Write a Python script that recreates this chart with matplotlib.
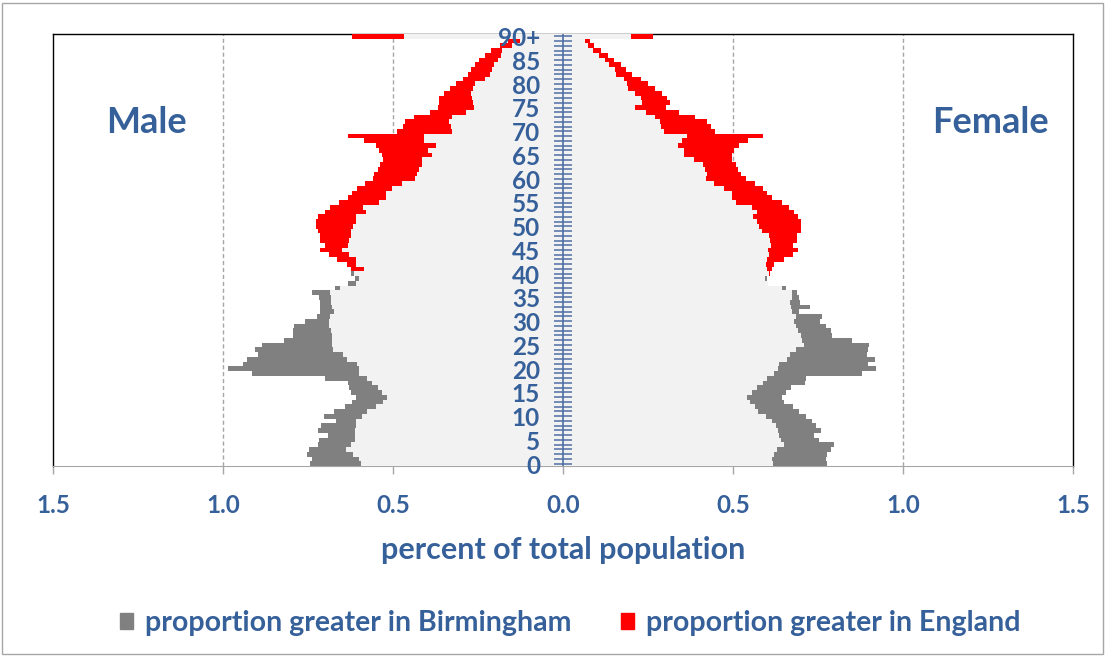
import numpy as np
import matplotlib
matplotlib.use('Agg')
import matplotlib.pyplot as plt
from matplotlib.patches import Patch, Rectangle

plt.rcParams['font.family'] = ['Lato', 'DejaVu Sans']
plt.rcParams['font.weight'] = 'bold'

# single years of age 0..90 (90 = 90+), percent of total population
ages = np.arange(91)
age_labels = [str(a) for a in range(0, 90, 5)] + ['90+']

male_birmingham = [
    0.745, 0.737, 0.752, 0.747, 0.720, 0.718, 0.690, 0.720, 0.713, 0.667,
    0.703, 0.674, 0.641, 0.620, 0.608, 0.624, 0.629, 0.631, 0.700, 0.914,
    0.985, 0.941, 0.928, 0.896, 0.906, 0.884, 0.820, 0.794, 0.794, 0.791,
    0.760, 0.725, 0.715, 0.715, 0.715, 0.718, 0.737, 0.671, 0.632, 0.612,
    0.624, 0.585, 0.608, 0.608, 0.628, 0.649, 0.632, 0.629, 0.624, 0.624,
    0.618, 0.608, 0.610, 0.580, 0.587, 0.541, 0.522, 0.522, 0.502, 0.474,
    0.436, 0.428, 0.424, 0.414, 0.414, 0.384, 0.397, 0.374, 0.409, 0.409,
    0.326, 0.330, 0.335, 0.326, 0.286, 0.262, 0.266, 0.269, 0.272, 0.264,
    0.260, 0.230, 0.215, 0.210, 0.203, 0.190, 0.181, 0.178, 0.149, 0.127,
    0.468]
male_england = [
    0.595, 0.600, 0.618, 0.637, 0.624, 0.613, 0.613, 0.612, 0.610, 0.610,
    0.592, 0.577, 0.551, 0.529, 0.517, 0.533, 0.543, 0.561, 0.576, 0.600,
    0.600, 0.607, 0.634, 0.647, 0.676, 0.680, 0.680, 0.680, 0.683, 0.688,
    0.688, 0.686, 0.673, 0.680, 0.683, 0.683, 0.686, 0.657, 0.610, 0.600,
    0.615, 0.624, 0.636, 0.664, 0.688, 0.714, 0.700, 0.715, 0.715, 0.720,
    0.726, 0.726, 0.720, 0.700, 0.685, 0.659, 0.631, 0.620, 0.605, 0.582,
    0.559, 0.556, 0.544, 0.538, 0.529, 0.531, 0.541, 0.551, 0.585, 0.632,
    0.487, 0.471, 0.465, 0.438, 0.392, 0.368, 0.365, 0.365, 0.350, 0.332,
    0.316, 0.293, 0.280, 0.270, 0.260, 0.247, 0.230, 0.213, 0.185, 0.161,
    0.620]
female_birmingham = [
    0.777, 0.773, 0.777, 0.787, 0.797, 0.753, 0.738, 0.758, 0.743, 0.733,
    0.714, 0.694, 0.676, 0.650, 0.643, 0.655, 0.670, 0.712, 0.714, 0.878,
    0.920, 0.898, 0.918, 0.893, 0.898, 0.900, 0.851, 0.790, 0.787, 0.773,
    0.755, 0.761, 0.694, 0.726, 0.697, 0.695, 0.689, 0.655, 0.604, 0.601,
    0.605, 0.601, 0.596, 0.599, 0.606, 0.604, 0.611, 0.608, 0.606, 0.584,
    0.576, 0.571, 0.559, 0.571, 0.557, 0.508, 0.498, 0.496, 0.474, 0.444,
    0.421, 0.423, 0.417, 0.413, 0.385, 0.356, 0.356, 0.339, 0.349, 0.366,
    0.297, 0.287, 0.285, 0.271, 0.245, 0.212, 0.231, 0.228, 0.212, 0.191,
    0.189, 0.179, 0.157, 0.152, 0.135, 0.123, 0.106, 0.089, 0.074, 0.064,
    0.201]
female_england = [
    0.618, 0.616, 0.621, 0.630, 0.650, 0.640, 0.635, 0.633, 0.627, 0.614,
    0.598, 0.574, 0.565, 0.550, 0.542, 0.557, 0.572, 0.588, 0.601, 0.621,
    0.633, 0.635, 0.660, 0.667, 0.684, 0.709, 0.704, 0.701, 0.692, 0.684,
    0.680, 0.684, 0.673, 0.670, 0.668, 0.673, 0.673, 0.645, 0.604, 0.594,
    0.610, 0.614, 0.621, 0.650, 0.675, 0.692, 0.675, 0.689, 0.689, 0.699,
    0.699, 0.699, 0.692, 0.679, 0.665, 0.643, 0.614, 0.601, 0.588, 0.565,
    0.537, 0.523, 0.515, 0.508, 0.498, 0.498, 0.503, 0.518, 0.544, 0.589,
    0.447, 0.434, 0.423, 0.388, 0.341, 0.304, 0.314, 0.307, 0.292, 0.271,
    0.251, 0.230, 0.204, 0.184, 0.170, 0.150, 0.132, 0.113, 0.091, 0.078,
    0.265]

BLUE = '#36609a'
LIGHT = '#f2f2f2'
GREY = '#808080'
RED = '#ff0000'

fig = plt.figure(figsize=(11.07, 6.57), dpi=100)
ax = fig.add_axes([53/1107, 1 - 466/657, 1020/1107, 432/657])


def side(birm, eng, sign):
    b = np.array(birm)
    e = np.array(eng)
    common = np.minimum(b, e)
    ax.barh(ages, sign*common, height=1.0, color=LIGHT, zorder=3)
    ax.barh(ages, sign*np.clip(b - e, 0, None), left=sign*common,
            height=1.0, color=GREY, zorder=3)
    ax.barh(ages, sign*np.clip(e - b, 0, None), left=sign*common,
            height=1.0, color=RED, zorder=3)


side(male_birmingham, male_england, -1)
side(female_birmingham, female_england, 1)

ax.set_xlim(-1.5, 1.5)
ax.set_ylim(-0.5, 90.5)

# dashed grid
for g in [-1.0, -0.5, 0.5, 1.0]:
    ax.axvline(g, color='#a6a6a6', lw=1, ls=(0, (3, 2)), zorder=1)

# centre age axis with a tick per year
ax.axvline(0, color='#4f6fa5', lw=1.2, zorder=4)
ax.hlines(ages, -0.027, 0.025, color='#4f6fa5', lw=1.1, zorder=4)
for a, lab in zip(range(0, 91, 5), age_labels):
    ax.text(-0.068, a - 0.5, lab, ha='right', va='center', color=BLUE,
            fontsize=17.5, fontweight='bold', zorder=5)

ax.set_yticks([])
ax.set_xticks([-1.5, -1.0, -0.5, 0, 0.5, 1.0, 1.5])
ax.set_xticklabels(['1.5', '1.0', '0.5', '0.0', '0.5', '1.0', '1.5'])
ax.tick_params(axis='x', direction='out', length=6, width=1, color='#a6a6a6',
               labelcolor=BLUE, labelsize=17.5, pad=14)
for lab in ax.get_xticklabels():
    lab.set_fontweight('bold')
ax.set_xlabel('percent of total population', color=BLUE, fontsize=22,
              fontweight='bold', labelpad=14)

for s in ['left', 'top', 'right']:
    ax.spines[s].set_color('black')
    ax.spines[s].set_linewidth(1)
ax.spines['bottom'].set_color('#a6a6a6')

ax.text(0.092, 0.794, 'Male', transform=ax.transAxes, ha='center', va='center',
        color=BLUE, fontsize=26, fontweight='bold')
ax.text(0.919, 0.794, 'Female', transform=ax.transAxes, ha='center',
        va='center', color=BLUE, fontsize=26, fontweight='bold')

handles = [Patch(color=GREY, label='proportion greater in Birmingham'),
           Patch(color=RED, label='proportion greater in England')]
leg = fig.legend(handles=handles, loc='center', bbox_to_anchor=(0.515, 1 - 623/657),
                 ncol=2, frameon=False, fontsize=20.5, handlelength=0.47,
                 handleheight=0.47, handletextpad=0.4, columnspacing=1.75)
for t in leg.get_texts():
    t.set_color(BLUE)
    t.set_fontweight('bold')

fig.patches.append(Rectangle((0.002, 0.005), 0.994, 0.99, transform=fig.transFigure,
                             fill=False, edgecolor='#a6a6a6', lw=1))

fig.savefig('out.png', dpi=100)
